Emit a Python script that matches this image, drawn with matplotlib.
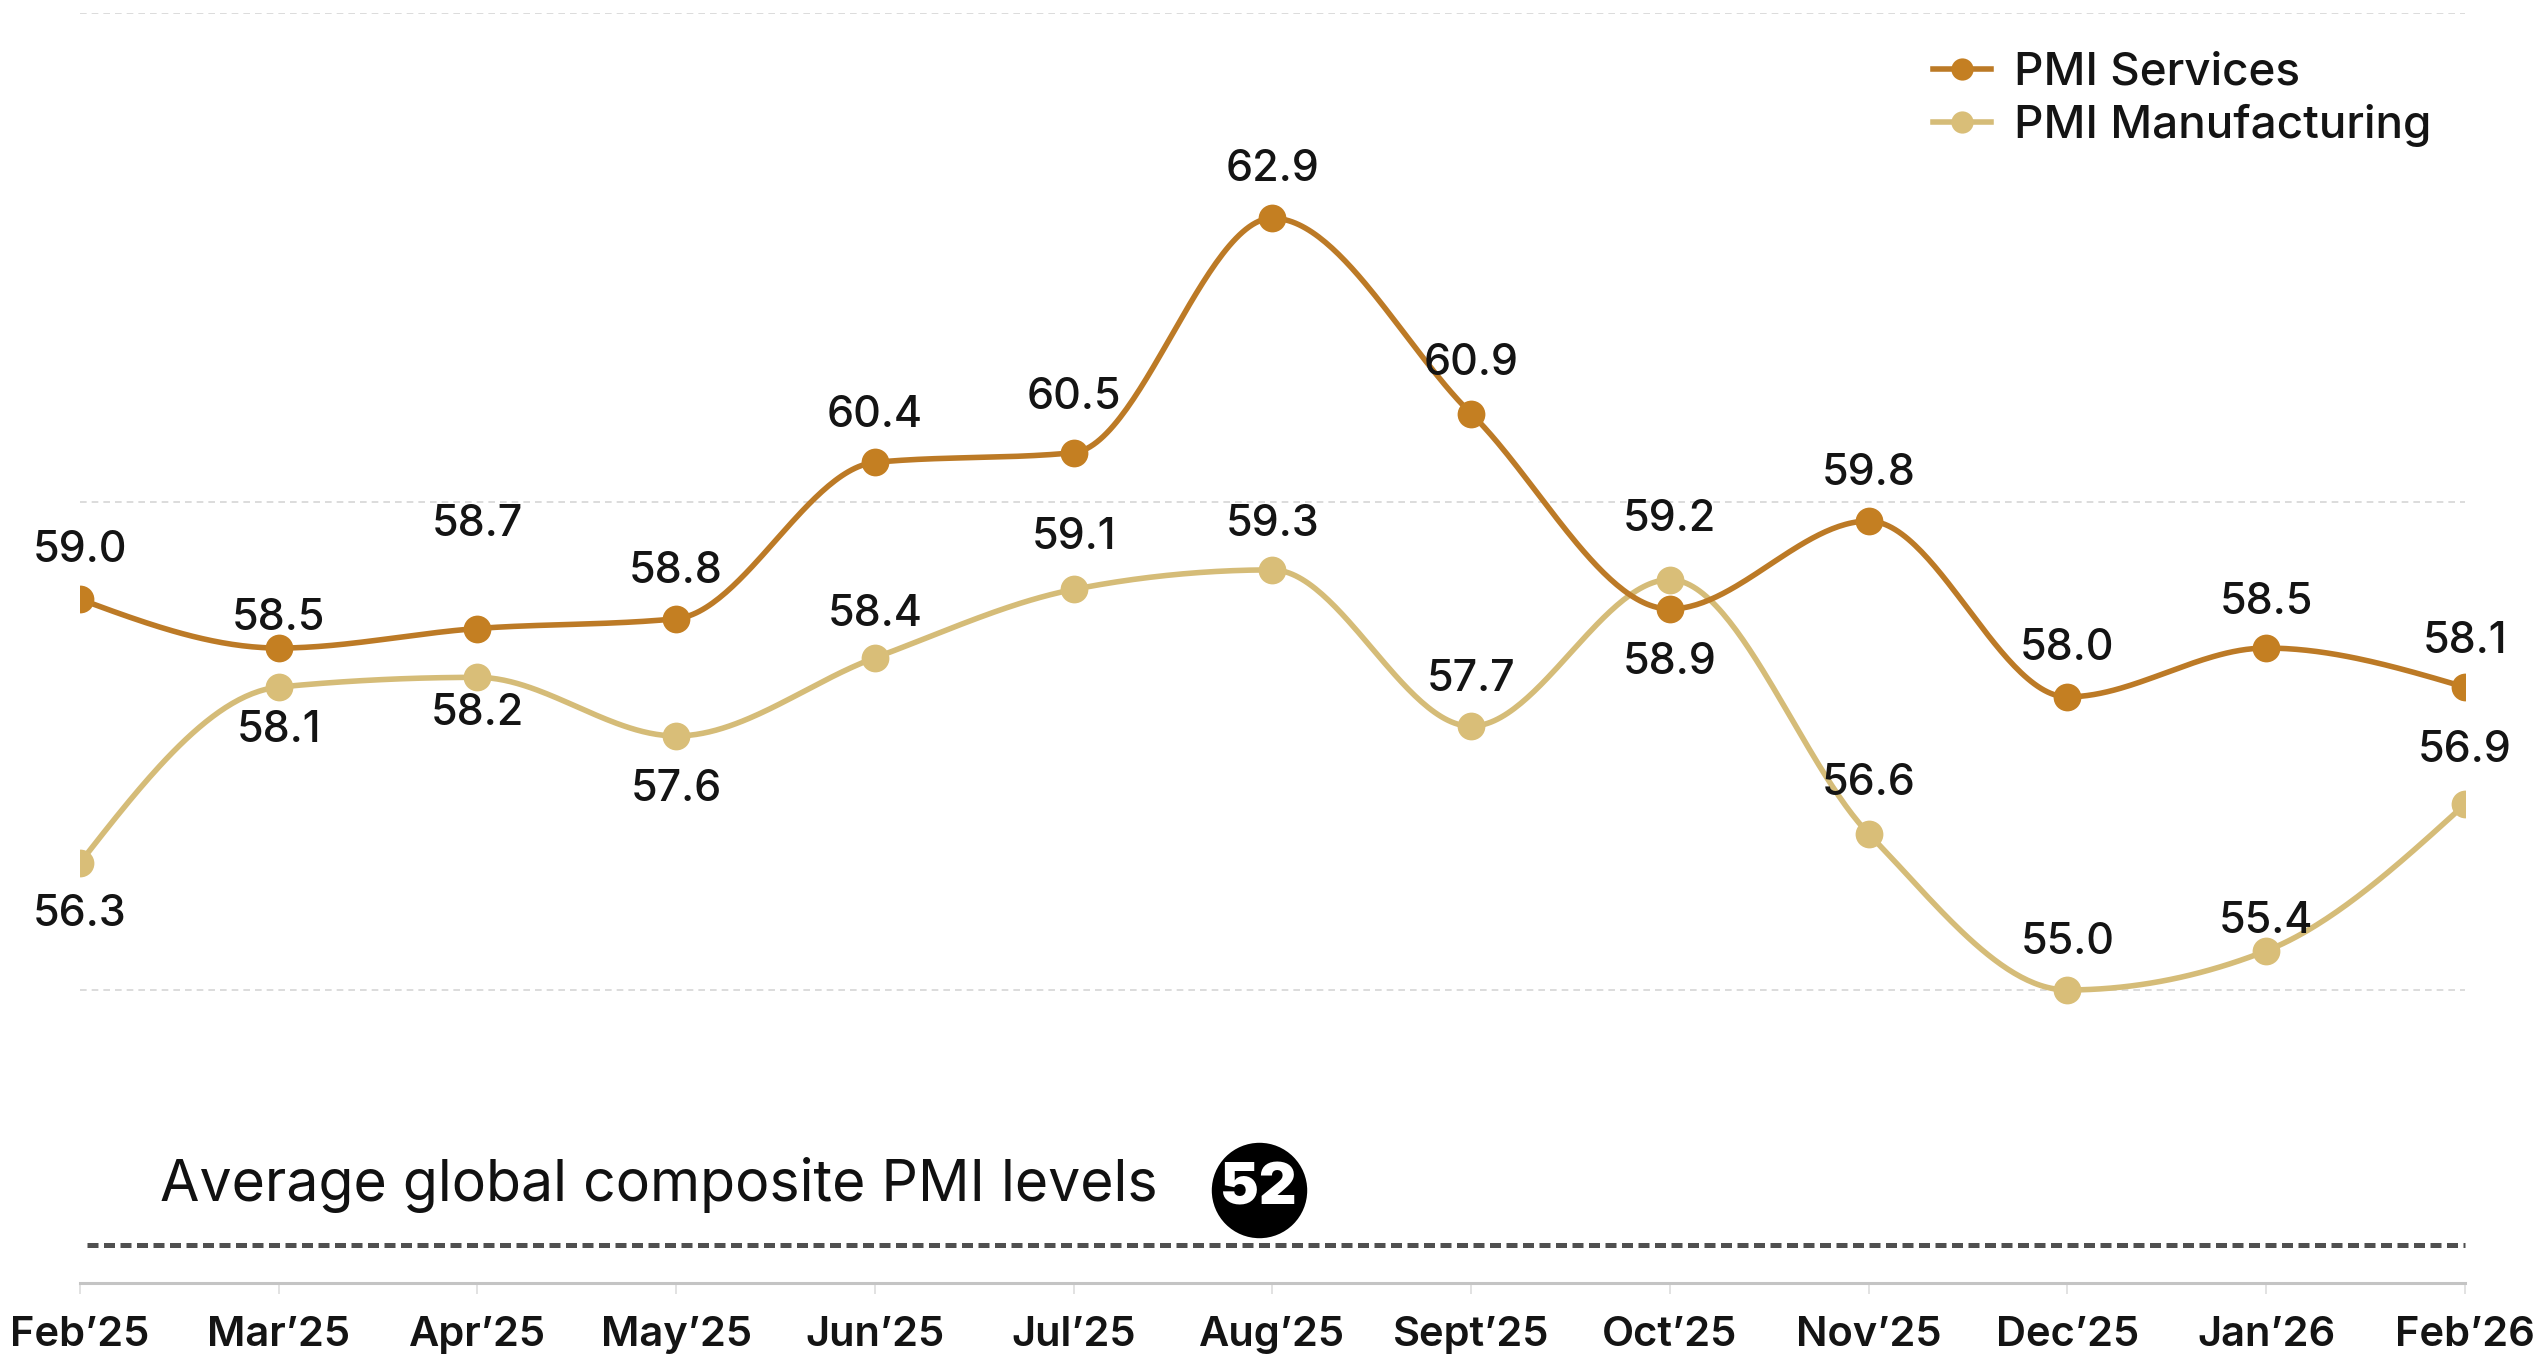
import numpy as np
import matplotlib
matplotlib.use("Agg")
import matplotlib.pyplot as plt
from matplotlib.lines import Line2D

# ---------------- data ----------------
months = ["Feb’25", "Mar’25", "Apr’25", "May’25", "Jun’25", "Jul’25", "Aug’25",
          "Sept’25", "Oct’25", "Nov’25", "Dec’25", "Jan’26", "Feb’26"]
pmi_services = [59.0, 58.5, 58.7, 58.8, 60.4, 60.5, 62.9, 60.9, 58.9, 59.8, 58.0, 58.5, 58.1]
pmi_manufacturing = [56.3, 58.1, 58.2, 57.6, 58.4, 59.1, 59.3, 57.7, 59.2, 56.6, 55.0, 55.4, 56.9]
avg_global_composite = 52
grid_levels = [55, 60, 65]

# label vertical offsets (+ above / - below) -- styling only
svc_off = [30, 18, 64, 29, 29, 34, 30, 31, -33, 29, 30, 28, 28]
mfg_off = [-32, -27, -22, -33, 27, 32, 28, 29, 37, 31, 29, 18, 33]

SVC_COLOR = "#BC7A26"
SVC_MARK = "#C47F22"
MFG_COLOR = "#D5BC78"
MFG_MARK = "#D9BE78"

plt.rcParams['font.family'] = ['Inter', 'DejaVu Sans']


def monotone_curve(x, y, n=60):
    x = np.asarray(x, float)
    y = np.asarray(y, float)
    h = np.diff(x)
    s = np.diff(y) / h
    m = np.zeros_like(y)
    sg = lambda v: -1.0 if v < 0 else 1.0
    for i in range(1, len(x) - 1):
        p = (s[i - 1] * h[i] + s[i] * h[i - 1]) / (h[i - 1] + h[i])
        m[i] = (sg(s[i - 1]) + sg(s[i])) * min(abs(s[i - 1]), abs(s[i]), 0.5 * abs(p))
    m[0] = (3 * s[0] - m[1]) / 2
    m[-1] = (3 * s[-1] - m[-2]) / 2
    xs, ys = [], []
    for i in range(len(x) - 1):
        t = np.linspace(0, 1, n, endpoint=(i == len(x) - 2))
        h00 = 2 * t**3 - 3 * t**2 + 1
        h10 = t**3 - 2 * t**2 + t
        h01 = -2 * t**3 + 3 * t**2
        h11 = t**3 - t**2
        xs.append(x[i] + t * h[i])
        ys.append(h00 * y[i] + h10 * h[i] * m[i] + h01 * y[i + 1] + h11 * h[i] * m[i + 1])
    return np.concatenate(xs), np.concatenate(ys)


fig = plt.figure(figsize=(12.72, 6.8), dpi=200)
ax = fig.add_axes([0.0314, 0.0566, 0.9375, 0.9338])
xpos = np.arange(len(months))

# grid lines
for g in grid_levels:
    ax.axhline(g, color="#d6d6d6", lw=0.6, dashes=(4, 3), zorder=1)

# series
xm, ym = monotone_curve(xpos, pmi_manufacturing)
ax.plot(xm, ym, color=MFG_COLOR, lw=2.0, zorder=3, solid_capstyle='round')
ax.scatter(xpos, pmi_manufacturing, s=100, color=MFG_MARK, zorder=4, linewidths=0)
xs_, ys_ = monotone_curve(xpos, pmi_services)
ax.plot(xs_, ys_, color=SVC_COLOR, lw=2.0, zorder=5, solid_capstyle='round')
ax.scatter(xpos, pmi_services, s=100, color=SVC_MARK, zorder=6, linewidths=0)

# data labels
for i, v in enumerate(pmi_services):
    ax.annotate(f"{v:.1f}", (xpos[i], v), xytext=(0, svc_off[i] * 0.584),
                textcoords="offset points", ha="center", va="center",
                fontsize=15.5, fontweight="medium", color="#141414", zorder=7)
for i, v in enumerate(pmi_manufacturing):
    ax.annotate(f"{v:.1f}", (xpos[i], v), xytext=(0, mfg_off[i] * 0.584),
                textcoords="offset points", ha="center", va="center",
                fontsize=15.5, fontweight="medium", color="#141414", zorder=7)

# average global composite PMI annotation
ax.plot([0.003, 1.0], [0.0299, 0.0299], transform=ax.transAxes, color="#505050",
        lw=1.8, dashes=(2.2, 1.1), clip_on=False, zorder=2)
ax.text(0.0335, 0.0645, "Average global composite PMI levels", transform=ax.transAxes,
        ha="left", va="baseline", fontsize=20.6, fontweight="normal", color="#111111")
ax.scatter([0.4943], [0.0735], s=1180, color="black", transform=ax.transAxes,
           zorder=8, clip_on=False, linewidths=0)
ax.text(0.4943, 0.0735, str(avg_global_composite), transform=ax.transAxes,
        ha="center", va="center", fontsize=21, fontweight="black", color="white", zorder=9)

# axes styling
ax.set_xlim(0, 12)
ax.set_ylim(52, 65)
ax.set_xticks(xpos)
ax.set_xticklabels(months, fontsize=15, fontweight="semibold", color="#141414")
ax.set_yticks([])
for sp in ["left", "right", "top"]:
    ax.spines[sp].set_visible(False)
ax.spines["bottom"].set_color("#c4c4c4")
ax.spines["bottom"].set_linewidth(1.1)
ax.tick_params(axis="x", length=4, width=0.6, color="#dddddd", pad=8)

# legend
handles = [
    Line2D([0], [0], color=SVC_COLOR, lw=2.0, marker="o", markersize=8,
           markerfacecolor=SVC_MARK, markeredgewidth=0),
    Line2D([0], [0], color=MFG_COLOR, lw=2.0, marker="o", markersize=8,
           markerfacecolor=MFG_MARK, markeredgewidth=0),
]
leg = fig.legend(handles, ["PMI Services", "PMI Manufacturing"], loc="upper left",
                 bbox_to_anchor=(0.760, 0.962), frameon=False, fontsize=16.5,
                 handlelength=1.25, handletextpad=0.5, labelspacing=0.22,
                 borderpad=0, borderaxespad=0)
for t in leg.get_texts():
    t.set_color("#141414")
    t.set_fontweight("medium")

fig.savefig("out.png", dpi=200, facecolor="white")
